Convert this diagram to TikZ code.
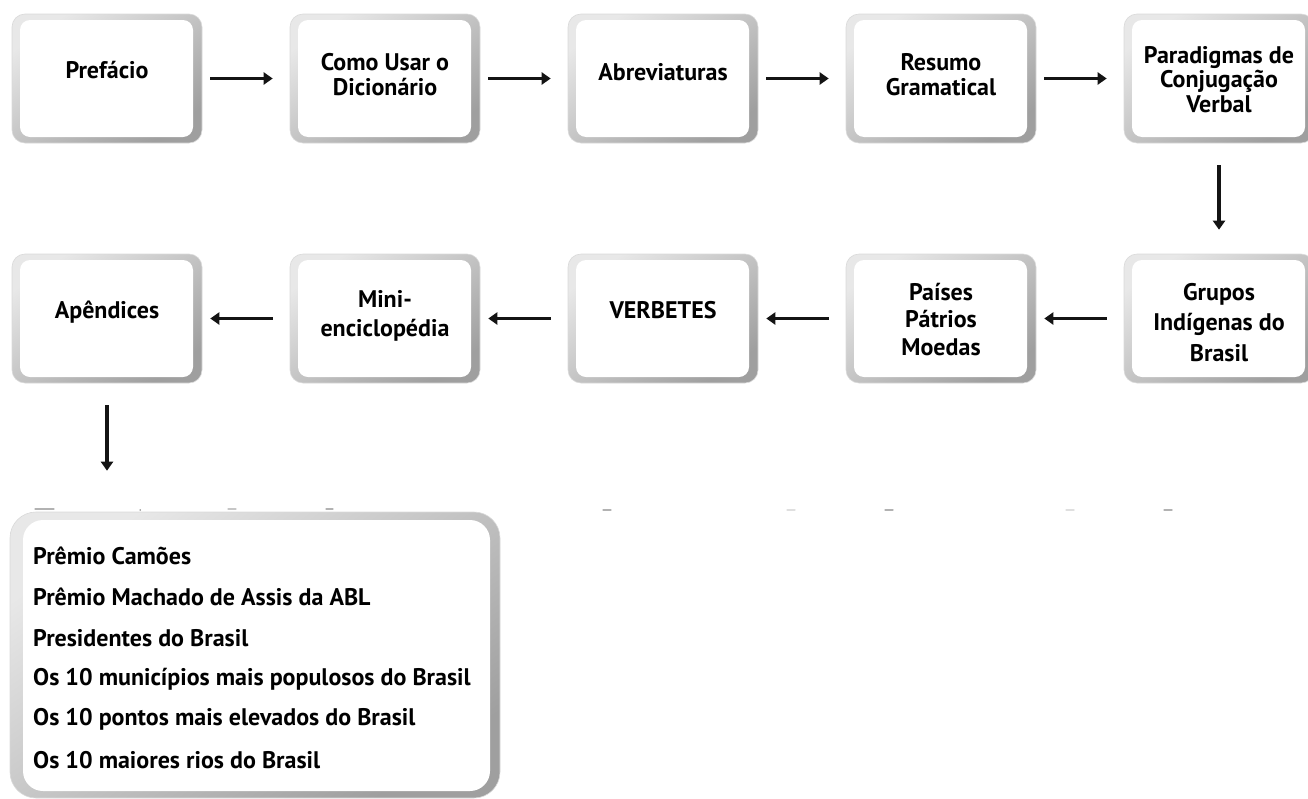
\documentclass[tikz,border=0pt]{standalone}
\usepackage{fontspec}
\setmainfont{PT Sans}
\usetikzlibrary{arrows.meta}
\begin{document}
\begin{tikzpicture}[x=1pt,y=-1pt,
  keybox/.style={minimum width=190pt, minimum height=129pt, inner sep=0pt,
    rounded corners=13pt, draw=gray!30, line width=0.6pt,
    top color=gray!18, bottom color=gray!75, shading angle=35,
    path picture={\fill[white, rounded corners=10pt]
      ([xshift=8pt,yshift=-6pt]path picture bounding box.north west) rectangle
      ([xshift=-9pt,yshift=6pt]path picture bounding box.south east);}},
  listbox/.style={minimum width=490pt, minimum height=286pt, inner sep=0pt,
    rounded corners=26pt, draw=gray!30, line width=0.6pt,
    top color=gray!18, bottom color=gray!75, shading angle=35,
    path picture={\fill[white, rounded corners=20pt]
      ([xshift=13pt,yshift=-8pt]path picture bounding box.north west) rectangle
      ([xshift=-10pt,yshift=7pt]path picture bounding box.south east);}},
  boxtext/.style={align=center, inner sep=0pt, font=\bfseries\fontsize{24}{24.5}\selectfont},
  listtext/.style={anchor=west, inner sep=0pt, font=\bfseries\fontsize{24}{26}\selectfont},
  arr/.style={line width=3.6pt, black!92, -{Triangle[length=9pt,width=12pt]}},
  mark line/.style={line width=1.3pt, line cap=round}
]
\useasboundingbox (0,0) rectangle (1308,798);
\clip (0,0) rectangle (1308,798);

% first row
\node[keybox] (b1) at (107,78.5) {};
\node[keybox] (b2) at (385,78.5) {};
\node[keybox] (b3) at (663,78.5) {};
\node[keybox] (b4) at (941,78.5) {};
\node[keybox] (b5) at (1219,78.5) {};
% second row
\node[keybox] (c1) at (107,318.5) {};
\node[keybox] (c2) at (385,318.5) {};
\node[keybox] (c3) at (663,318.5) {};
\node[keybox] (c4) at (941,318.5) {};
\node[keybox] (c5) at (1219,318.5) {};
% appendix list
\node[listbox] (list) at (255,655) {};

% labels
\node[boxtext] (t1) at ([yshift=8pt]b1.center) {Prefácio};
\node[boxtext] (t2) at ([yshift=4pt]b2.center) {Como Usar o\\Dicionário};
\node[boxtext] (t3) at ([yshift=6pt]b3.center) {Abreviaturas};
\node[boxtext] (t4) at ([yshift=4pt]b4.center) {Resumo\\Gramatical};
\node[boxtext] (t5) at ([yshift=-1pt]b5.center) {Paradigmas de\\Conjugação\\Verbal};
\node[boxtext] (u1) at ([yshift=6pt]c1.center) {Apêndices};
\node[boxtext, font=\bfseries\fontsize{24}{29}\selectfont] (u2) at ([yshift=3pt]c2.center) {Mini-\\enciclopédia};
\node[boxtext] (u3) at ([yshift=8pt]c3.center) {VERBETES};
\node[boxtext, font=\bfseries\fontsize{24}{27.5}\selectfont] (u4) at ([yshift=-1pt]c4.center) {Países\\Pátrios\\Moedas};
\node[boxtext, font=\bfseries\fontsize{24}{30.5}\selectfont] (u5) at ([yshift=-4pt]c5.center) {Grupos\\Indígenas do\\Brasil};

\node[listtext] (l1) at (33,556) {Prêmio Camões};
\node[listtext] (l2) at (33,597) {Prêmio Machado de Assis da ABL};
\node[listtext] (l3) at (33,638) {Presidentes do Brasil};
\node[listtext] (l4) at (33,679) {Os 10 municípios mais populosos do Brasil};
\node[listtext] (l5) at (33,719) {Os 10 pontos mais elevados do Brasil};
\node[listtext] (l6) at (33,760) {Os 10 maiores rios do Brasil};

% connectors
\draw[arr, shorten <=8pt, shorten >=17pt] (b1) -- (b2);
\draw[arr, shorten <=8pt, shorten >=17pt] (b2) -- (b3);
\draw[arr, shorten <=8pt, shorten >=17pt] (b3) -- (b4);
\draw[arr, shorten <=8pt, shorten >=17pt] (b4) -- (b5);
\draw[arr, shorten <=22pt, shorten >=24pt] (b5) -- (c5);
\draw[arr, shorten <=17pt, shorten >=8pt] (c5) -- (c4);
\draw[arr, shorten <=17pt, shorten >=8pt] (c4) -- (c3);
\draw[arr, shorten <=17pt, shorten >=8pt] (c3) -- (c2);
\draw[arr, shorten <=17pt, shorten >=8pt] (c2) -- (c1);
\draw[arr, shorten <=22pt, shorten >=41pt] (c1.south) -- (c1.south |- list.north);

% faint marks along the top of the list
\draw[mark line, gray!60] (35,509) -- (54,509);
\draw[mark line, gray!70] (140,510) -- (140.5,510);
\draw[mark line, gray!45] (228,509) -- (236,509);
\draw[mark line, gray!60] (326,509) -- (333,509);
\draw[mark line, gray!60] (603,510) -- (611,510);
\draw[mark line, gray!25] (787,510) -- (795,510);
\draw[mark line, gray!60] (885,510) -- (893,510);
\draw[mark line, gray!25] (1066,510) -- (1074,510);
\draw[mark line, gray!60] (1164,510) -- (1172,510);
\end{tikzpicture}
\end{document}
